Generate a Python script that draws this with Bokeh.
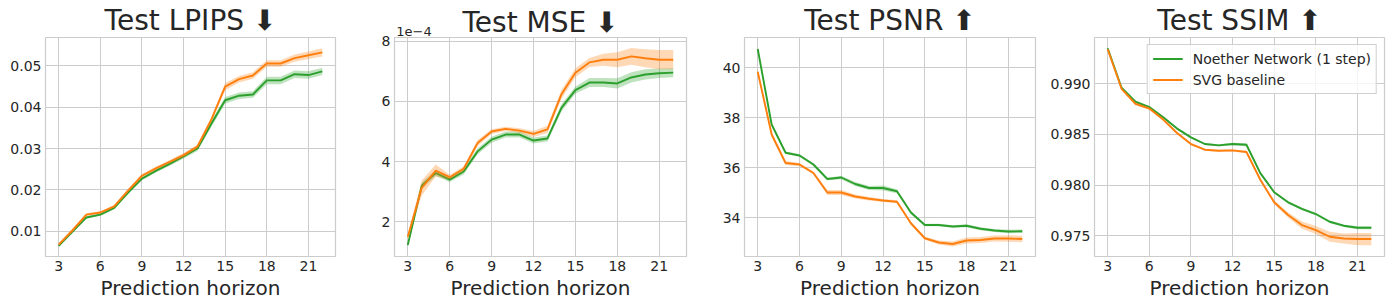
from bokeh.plotting import figure
from bokeh.layouts import row
from bokeh.models import (Range1d, FixedTicker, ColumnDataSource, Legend, LegendItem, LinearAxis,
                          CustomJSTickFormatter, PrintfTickFormatter)
from bokeh.embed import file_html
from bokeh.resources import INLINE

horizon = list(range(3, 23))
xticks = [3, 6, 9, 12, 15, 18, 21]
series_names = ["Noether Network (1 step)", "SVG baseline"]
colors = ["#2ca02c", "#ff7f0e"]

# LPIPS
lpips_noether = [0.0064, 0.0099, 0.0133, 0.0140, 0.0156, 0.0193, 0.0227, 0.0246, 0.0263, 0.0281, 0.0300, 0.0360,
                 0.0417, 0.0428, 0.0431, 0.0465, 0.0465, 0.0480, 0.0478, 0.0487]
lpips_noether_err = [0.0002, 0.0002, 0.0003, 0.0003, 0.0003, 0.0004, 0.0004, 0.0004, 0.0005, 0.0005, 0.0006, 0.0008,
                     0.0008, 0.0008, 0.0008, 0.0009, 0.0009, 0.0009, 0.0009, 0.0009]
lpips_svg = [0.0067, 0.0102, 0.0140, 0.0145, 0.0160, 0.0198, 0.0234, 0.0252, 0.0268, 0.0284, 0.0305, 0.0370,
             0.0450, 0.0468, 0.0477, 0.0506, 0.0506, 0.0519, 0.0526, 0.0533]
lpips_svg_err = [0.0002, 0.0003, 0.0003, 0.0003, 0.0003, 0.0004, 0.0004, 0.0004, 0.0004, 0.0005, 0.0005, 0.0006,
                 0.0009, 0.0008, 0.0008, 0.0008, 0.0008, 0.0009, 0.0009, 0.0010]

# MSE
mse_noether = [1.22e-4, 3.20e-4, 3.62e-4, 3.40e-4, 3.67e-4, 4.34e-4, 4.73e-4, 4.90e-4, 4.90e-4, 4.70e-4, 4.77e-4,
               5.79e-4, 6.38e-4, 6.63e-4, 6.63e-4, 6.60e-4, 6.80e-4, 6.90e-4, 6.94e-4, 6.96e-4]
mse_noether_err = [0.05e-4, 0.10e-4, 0.10e-4, 0.08e-4, 0.10e-4, 0.10e-4, 0.10e-4, 0.10e-4, 0.10e-4, 0.10e-4, 0.10e-4,
                   0.12e-4, 0.12e-4, 0.15e-4, 0.15e-4, 0.17e-4, 0.17e-4, 0.17e-4, 0.16e-4, 0.15e-4]
mse_svg = [1.50e-4, 3.12e-4, 3.70e-4, 3.48e-4, 3.76e-4, 4.62e-4, 5.00e-4, 5.09e-4, 5.03e-4, 4.92e-4, 5.07e-4,
           6.24e-4, 6.96e-4, 7.30e-4, 7.39e-4, 7.39e-4, 7.50e-4, 7.44e-4, 7.39e-4, 7.39e-4]
mse_svg_err = [0.08e-4, 0.25e-4, 0.20e-4, 0.08e-4, 0.08e-4, 0.10e-4, 0.08e-4, 0.07e-4, 0.08e-4, 0.10e-4, 0.12e-4,
               0.15e-4, 0.15e-4, 0.15e-4, 0.20e-4, 0.25e-4, 0.28e-4, 0.30e-4, 0.32e-4, 0.32e-4]

# PSNR
psnr_noether = [40.74, 37.72, 36.59, 36.48, 36.12, 35.54, 35.60, 35.34, 35.18, 35.18, 35.05, 34.20, 33.70, 33.70,
                33.64, 33.67, 33.55, 33.48, 33.44, 33.45]
psnr_noether_err = [0.05, 0.06, 0.05, 0.05, 0.05, 0.05, 0.07, 0.08, 0.08, 0.10, 0.08, 0.06, 0.05, 0.05, 0.05, 0.06,
                    0.06, 0.06, 0.07, 0.07]
psnr_svg = [39.83, 37.32, 36.18, 36.12, 35.78, 35.00, 35.00, 34.84, 34.75, 34.68, 34.63, 33.77, 33.17, 33.00,
            32.94, 33.08, 33.10, 33.16, 33.16, 33.14]
psnr_svg_err = [0.12, 0.10, 0.08, 0.06, 0.06, 0.10, 0.10, 0.08, 0.07, 0.06, 0.06, 0.06, 0.06, 0.08, 0.10, 0.12,
                0.12, 0.12, 0.13, 0.13]

# SSIM
ssim_noether = [0.9935, 0.9896, 0.98822, 0.98769, 0.9867, 0.98557, 0.98471, 0.98405, 0.98392, 0.98405, 0.98398,
                0.98118, 0.97929, 0.9783, 0.97764, 0.97714, 0.97638, 0.97599, 0.97579, 0.97579]
ssim_noether_err = [0.00005, 0.0001, 0.0001, 0.0001, 0.0001, 0.0001, 0.0001, 0.0001, 0.0001, 0.00012, 0.00015,
                    0.00012, 0.00012, 0.00012, 0.00012, 0.00012, 0.00012, 0.00012, 0.00015, 0.00015]
ssim_svg = [0.9934, 0.9895, 0.98802, 0.98755, 0.98646, 0.98514, 0.98405, 0.98349, 0.98339, 0.98342, 0.98326,
            0.98052, 0.9783, 0.97705, 0.97605, 0.97556, 0.9749, 0.97473, 0.97467, 0.97467]
ssim_svg_err = [0.00005, 0.00012, 0.00015, 0.00012, 0.00012, 0.00012, 0.00012, 0.0001, 0.0001, 0.0001, 0.00012,
                0.00015, 0.0002, 0.00025, 0.00035, 0.0004, 0.0005, 0.0005, 0.0006, 0.0006]

titles = ["Test LPIPS \u2b07", "Test MSE \u2b07", "Test PSNR \u2b06", "Test SSIM \u2b06"]
offset_texts = [" ", "1e\u22124", " ", " "]
yticks = [[0.01, 0.02, 0.03, 0.04, 0.05], [2e-4, 4e-4, 6e-4, 8e-4], [34, 36, 38, 40], [0.975, 0.980, 0.985, 0.990]]
yranges = [(0.00384, 0.0569), (0.84e-4, 8.13e-4), (32.44, 41.2), (0.97295, 0.99456)]
data = [
    [(lpips_noether, lpips_noether_err), (lpips_svg, lpips_svg_err)],
    [(mse_noether, mse_noether_err), (mse_svg, mse_svg_err)],
    [(psnr_noether, psnr_noether_err), (psnr_svg, psnr_svg_err)],
    [(ssim_noether, ssim_noether_err), (ssim_svg, ssim_svg_err)],
]

FONT = "DejaVu Sans"
TXT = "#262626"
GRID = "#cccccc"
frame_widths = [290, 292, 291, 291]
left_borders = [45, 42, 42, 46]
right_borders = [17, 16, 12, 6]
title_standoffs = [-19, -15, -19, -19]
H = 302
OFFSET_X = 3.45

figs = []
for i in range(4):
    bl = left_borders[i]
    br = right_borders[i]
    p = figure(width=bl + frame_widths[i] + br, height=H, output_backend="svg", toolbar_location=None,
               x_range=Range1d(2.05, 22.95), y_range=Range1d(*yranges[i]),
               min_border_left=bl, min_border_right=br,
               min_border_top=35, min_border_bottom=0, title=None)
    p.background_fill_color = "white"
    p.border_fill_color = "white"
    p.outline_line_color = GRID
    p.outline_line_width = 1.2
    p.xgrid.grid_line_color = GRID
    p.ygrid.grid_line_color = GRID
    p.xgrid.grid_line_width = 1.0
    p.ygrid.grid_line_width = 1.0

    bottom = p.below[0]
    left = p.left[0]

    top = LinearAxis(ticker=FixedTicker(ticks=[OFFSET_X]),
                     major_label_overrides={OFFSET_X: offset_texts[i]})
    top.axis_label = titles[i]
    top.axis_label_text_font = FONT
    top.axis_label_text_font_size = "28px"
    top.axis_label_text_font_style = "normal"
    top.axis_label_text_color = TXT
    top.axis_label_standoff = title_standoffs[i]
    p.add_layout(top, "above")

    for ax in (bottom, left, top):
        ax.axis_line_color = None
        ax.major_tick_line_color = None
        ax.minor_tick_line_color = None
        ax.major_tick_out = 0
        ax.major_tick_in = 0
        ax.minor_tick_out = 0
        ax.minor_tick_in = 0
        ax.major_label_text_font = FONT
        ax.major_label_text_font_size = "14px"
        ax.major_label_text_color = TXT
        ax.major_label_standoff = 4
    top.major_label_standoff = 2
    top.major_label_text_font_size = "13px"

    bottom.ticker = FixedTicker(ticks=xticks)
    left.ticker = FixedTicker(ticks=yticks[i])
    bottom.axis_label = "Prediction horizon"
    bottom.axis_label_text_font = FONT
    bottom.axis_label_text_font_size = "20px"
    bottom.axis_label_text_font_style = "normal"
    bottom.axis_label_text_color = TXT
    bottom.major_label_standoff = 4
    bottom.axis_label_standoff = 2
    if i == 1:
        left.formatter = CustomJSTickFormatter(code="return (tick*1e4).toFixed(0);")
    elif i == 3:
        left.formatter = PrintfTickFormatter(format="%.3f")
    elif i == 0:
        left.formatter = PrintfTickFormatter(format="%.2f")

    items = []
    for (vals, err), name, c in zip(data[i], series_names, colors):
        lo = [v - e for v, e in zip(vals, err)]
        hi = [v + e for v, e in zip(vals, err)]
        src = ColumnDataSource(dict(x=horizon, y=vals, lo=lo, hi=hi))
        p.varea(x="x", y1="lo", y2="hi", source=src, fill_color=c, fill_alpha=0.3)
        ln = p.line(x="x", y="y", source=src, line_color=c, line_width=1.9)
        items.append(LegendItem(label=name, renderers=[ln]))
    if i == 3:
        leg = Legend(items=items, location="top_right")
        leg.label_text_font = FONT
        leg.label_text_font_size = "14px"
        leg.label_text_color = TXT
        leg.background_fill_alpha = 0.8
        leg.border_line_color = "#d0d0d0"
        leg.border_line_alpha = 1.0
        leg.glyph_width = 30
        leg.glyph_height = 17
        leg.label_height = 17
        leg.label_standoff = 10
        leg.spacing = 4
        leg.padding = 5
        leg.margin = 7
        p.add_layout(leg)
    figs.append(p)

layout = row(*figs, spacing=0)
open("out.html", "w").write(file_html(layout, INLINE))
